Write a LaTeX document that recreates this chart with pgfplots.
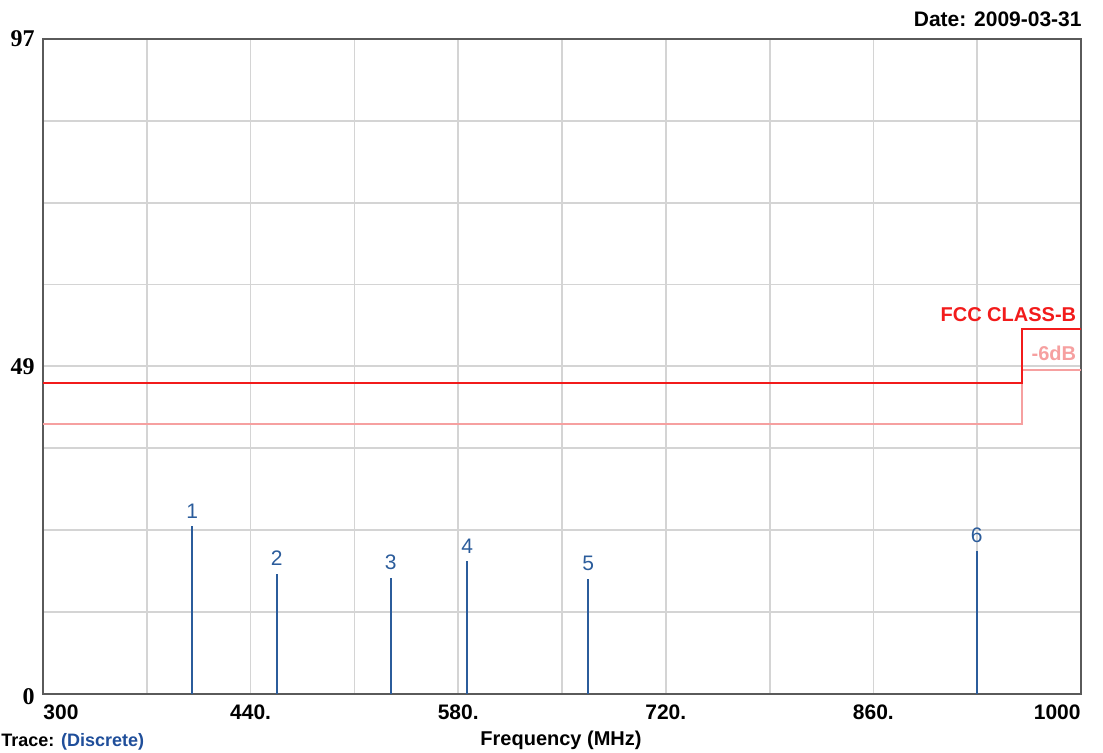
\documentclass[border=0pt]{standalone}
\usepackage{pgfplots}
\pgfplotsset{compat=1.18}
\usepackage{fontspec}
\setmainfont{Liberation Sans}
\newfontfamily\serifb{Liberation Serif}
\definecolor{stemblue}{HTML}{2B5C9B}
\definecolor{fccred}{HTML}{F21B1B}
\definecolor{fccpink}{HTML}{F6A0A0}
\definecolor{gridgray}{HTML}{D4D4D4}
\definecolor{framegray}{HTML}{5A5A5A}
\definecolor{traceblue}{HTML}{1F4E9A}

\pgfplotstableread{
x y label
400.7 24.8 1
457.6 17.8 2
534.5 17.2 3
586.1 19.6 4
667.7 17.0 5
929.6 21.2 6
}\stems

\begin{document}
\begin{tikzpicture}
\useasboundingbox (0,0) rectangle (551.5pt,376pt);
\clip (0,0) rectangle (551.5pt,376pt);
\begin{axis}[
  at={(21.5pt,29.15pt)}, anchor=south west,
  scale only axis, width=519pt, height=327.35pt,
  xmin=300, xmax=1000, ymin=0, ymax=97,
  xtick={300,370,440,510,580,650,720,790,860,930,1000},
  ytick={0,12.125,24.25,36.375,48.5,60.625,72.75,84.875,97},
  xticklabels={}, yticklabels={},
  major tick length=0pt,
  grid=major,
  grid style={color=gridgray, line width=0.9pt},
  axis line style={color=framegray, line width=1.2pt},
  clip=false,
]
\addplot[const plot, color=fccpink, line width=1pt] coordinates {(300,40) (960,48) (1000,48)};
\addplot[const plot, color=fccred, line width=1pt] coordinates {(300,46) (960,54) (1000,54)};
\addplot[ycomb, color=stemblue, line width=0.9pt, mark=none,
  nodes near coords, point meta=explicit symbolic,
  nodes near coords style={font=\fontsize{10.5}{12}\selectfont, text=stemblue, anchor=south, yshift=2.5pt, inner sep=1pt}]
  table[x=x, y=y, meta=label] {\stems};

% x tick labels
\node[anchor=north west, inner sep=0pt, yshift=-5.5pt, font=\bfseries\fontsize{10.5}{12}\selectfont] at (axis cs:300,0) {300};
\node[anchor=north, inner sep=0pt, yshift=-5.5pt, font=\bfseries\fontsize{10.5}{12}\selectfont] at (axis cs:440,0) {440.};
\node[anchor=north, inner sep=0pt, yshift=-5.5pt, font=\bfseries\fontsize{10.5}{12}\selectfont] at (axis cs:580,0) {580.};
\node[anchor=north, inner sep=0pt, yshift=-5.5pt, font=\bfseries\fontsize{10.5}{12}\selectfont] at (axis cs:720,0) {720.};
\node[anchor=north, inner sep=0pt, yshift=-5.5pt, font=\bfseries\fontsize{10.5}{12}\selectfont] at (axis cs:860,0) {860.};
\node[anchor=north east, inner sep=0pt, yshift=-5.5pt, font=\bfseries\fontsize{10.5}{12}\selectfont] at (axis cs:1000,0) {1000};

% y tick labels
\node[anchor=east, inner sep=0pt, xshift=-4pt, font=\serifb\bfseries\fontsize{12}{14}\selectfont] at (axis cs:300,97) {97};
\node[anchor=east, inner sep=0pt, xshift=-4pt, font=\serifb\bfseries\fontsize{12}{14}\selectfont] at (axis cs:300,48.5) {49};
\node[anchor=east, inner sep=0pt, xshift=-4pt, yshift=-1.5pt, font=\serifb\bfseries\fontsize{12}{14}\selectfont] at (axis cs:300,0) {0};

% limit labels
\node[anchor=east, inner sep=0pt, text=fccred, font=\bfseries\fontsize{10}{12}\selectfont] at (axis cs:997,56.2) {FCC CLASS-B};
\node[anchor=east, inner sep=0pt, text=fccpink, font=\bfseries\fontsize{10}{12}\selectfont] at (axis cs:997,50.5) {-6dB};
\end{axis}

\node[anchor=east, inner sep=0pt, font=\bfseries\fontsize{10.5}{12}\selectfont] at (541pt,366.5pt) {Date: 2009-03-31};
\node[anchor=north, inner sep=0pt, font=\bfseries\fontsize{10}{12}\selectfont] at (280.5pt,10.5pt) {Frequency (MHz)};
\node[anchor=south west, inner sep=0pt, font=\bfseries\fontsize{9}{11}\selectfont] at (0.5pt,0.6pt) {Trace: \textcolor{traceblue}{(Discrete)}};
\end{tikzpicture}
\end{document}
